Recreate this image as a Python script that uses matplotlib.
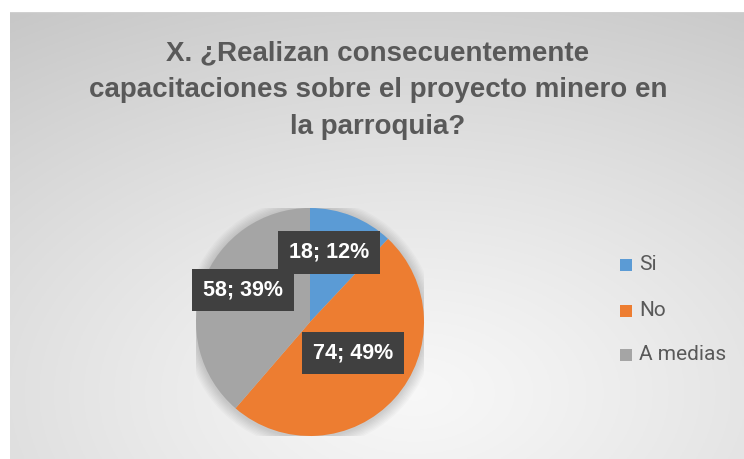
import numpy as np
import matplotlib
matplotlib.use("Agg")
import matplotlib.pyplot as plt

categories = ["Si", "No", "A medias"]
counts = [18, 74, 58]
percents = [12, 49, 39]
colors = ["#5B9BD5", "#ED7D31", "#A5A5A5"]
title = "X. ¿Realizan consecuentemente\ncapacitaciones sobre el proyecto minero en\nla parroquia?"

W, H = 744, 459
fig = plt.figure(figsize=(W / 100, H / 100), dpi=100)
fig.patch.set_facecolor("white")

# background panel with radial gradient
bx0, by_top = 10, 12
bg = fig.add_axes([bx0 / W, 0, 1 - bx0 / W, 1 - by_top / H])
bg.set_axis_off()
ny, nx = 200, 320
yy, xx = np.mgrid[0:ny, 0:nx]
cx, cy = nx * 0.55, ny * 0.85
d = np.sqrt(((xx - cx) / nx) ** 2 + ((yy - cy) / ny) ** 2)
d = d / d.max()
v = 0.97 - 0.19 * d ** 1.2
img = np.dstack([v, v, v])
bg.imshow(img, extent=[0, 1, 0, 1], aspect="auto", origin="upper")
bg.set_xlim(0, 1)
bg.set_ylim(0, 1)
bg.plot([0, 1], [1, 1], color="#d0d0d0", lw=1, transform=bg.transAxes)

fig.text(378 / W, 1 - 90 / H, title, ha="center", va="center", fontsize=20,
         fontweight="bold", color="#595959", family="Liberation Sans", linespacing=1.55)

# pie
pcx, pcy, r = 310, 322, 114
ax = fig.add_axes([(pcx - r) / W, (H - pcy - r) / H, 2 * r / W, 2 * r / H])
ax.set_axis_off()
# soft shadow
for i in range(8):
    circ = plt.Circle((0, -0.01), 1.0 + 0.012 * (i + 1), color="#000000", alpha=0.018, lw=0)
    ax.add_patch(circ)
wedges, _ = ax.pie(counts, colors=colors, startangle=90, counterclock=False,
                   radius=1, wedgeprops=dict(linewidth=0))
ax.set_xlim(-1, 1)
ax.set_ylim(-1, 1)
ax.set_aspect("auto")

label_pos = [(0.17, 0.61), (0.38, -0.27), (-0.59, 0.28)]
for (lx, ly), c, p in zip(label_pos, counts, percents):
    ax.text(lx, ly, f"{c}; {p}%", ha="center", va="center", fontsize=15.5,
            fontweight="bold", color="white", family="Liberation Sans",
            bbox=dict(boxstyle="square,pad=0.5", facecolor="#404040", edgecolor="none"))

# legend
leg_y = [265, 311, 355]
for cat, col, y in zip(categories, colors, leg_y):
    fig.patches.append(plt.Rectangle((620 / W, 1 - (y + 6) / H), 12 / W, 12 / H,
                                     transform=fig.transFigure, facecolor=col, edgecolor="none"))
    fig.text(639 / W, 1 - y / H, cat, ha="left", va="center", fontsize=15,
             color="#595959", family="Roboto")

fig.savefig("out.png", dpi=100)
